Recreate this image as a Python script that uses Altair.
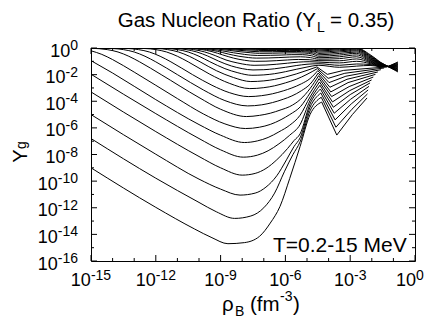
import altair as alt
import pandas as pd

W, H = 324, 213
FONT = "Liberation Sans"

# Each curve: (log10 rho_B, log10 Y_g), lowest temperature first
C01 = [(-15,-9.0),(-12,-11.97),(-10.2,-13.6),(-9.4,-14.25),(-8.66,-14.7),(-7.9,-14.62),(-7.2,-14.15),(-6.7,-13.15),(-6.25,-11.9),(-5.8,-9.8),(-5.32,-7.4),(-4.86,-5.0),(-4.32,-4.06),(-3.62,-6.54),(-2.9,-5.0),(-2.22,-3.75)]
C02 = [(-15,-6.8),(-12,-9.78),(-10.0,-11.6),(-9.2,-12.3),(-8.35,-12.8),(-7.6,-12.62),(-7.0,-12.0),(-6.5,-10.9),(-6.05,-9.3),(-5.65,-8.0),(-5.32,-7.05),(-4.86,-4.72),(-4.34,-3.7),(-3.66,-5.95),(-2.92,-4.6),(-2.2,-3.45)]
C03 = [(-15,-5.0),(-12,-7.98),(-10.0,-9.85),(-9.0,-10.6),(-8.1,-11.05),(-7.4,-10.9),(-6.9,-10.45),(-6.4,-9.6),(-5.95,-8.4),(-5.6,-7.4),(-5.32,-6.75),(-4.86,-4.45),(-4.36,-3.38),(-3.7,-5.4),(-2.95,-4.2),(-2.17,-3.15)]
C04 = [(-15,-3.3),(-12,-6.28),(-10.0,-8.15),(-9.0,-9.0),(-8.0,-9.55),(-7.4,-9.42),(-6.9,-9.05),(-6.4,-8.4),(-5.9,-7.55),(-5.6,-6.95),(-5.32,-6.45),(-4.86,-4.2),(-4.38,-3.08),(-3.74,-4.9),(-2.98,-3.85),(-2.13,-2.88)]
C05 = [(-15,-1.97),(-12,-4.93),(-10.0,-6.8),(-9.0,-7.65),(-7.95,-8.2),(-7.3,-8.05),(-6.8,-7.72),(-6.3,-7.2),(-5.8,-6.55),(-5.32,-5.75),(-4.86,-3.95),(-4.4,-2.8),(-3.78,-4.45),(-3.0,-3.5),(-2.08,-2.62)]
C06 = [(-15,-0.95),(-14,-1.88),(-12,-3.88),(-10.0,-5.75),(-9.0,-6.55),(-7.9,-7.1),(-7.3,-6.98),(-6.8,-6.72),(-6.3,-6.3),(-5.8,-5.8),(-5.32,-5.05),(-4.86,-3.68),(-4.42,-2.55),(-3.82,-4.05),(-3.02,-3.2),(-2.01,-2.4)]
C07 = [(-15,-0.21),(-14.5,-0.48),(-14,-0.87),(-13,-1.81),(-11,-3.8),(-9.8,-4.95),(-8.8,-5.7),(-7.85,-6.05),(-7.2,-5.95),(-6.7,-5.74),(-6.2,-5.38),(-5.8,-5.0),(-5.3,-4.4),(-4.86,-3.38),(-4.44,-2.3),(-3.86,-3.65),(-3.05,-2.9),(-1.93,-2.18)]
C08 = [(-15,-0.02),(-14.25,-0.12),(-13.75,-0.3),(-13.25,-0.62),(-12.75,-1.04),(-11.75,-2.0),(-10,-3.72),(-9,-4.6),(-7.8,-5.15),(-7.2,-5.06),(-6.7,-4.9),(-6.2,-4.64),(-5.8,-4.4),(-5.3,-3.85),(-4.86,-3.05),(-4.46,-2.08),(-3.9,-3.3),(-3.1,-2.6),(-1.83,-1.98)]
C09 = [(-15,0.0),(-14,-0.04),(-13.5,-0.12),(-13,-0.3),(-12.5,-0.62),(-12,-1.04),(-11,-2.0),(-9.8,-3.15),(-8.8,-3.95),(-7.75,-4.35),(-7.1,-4.27),(-6.6,-4.1),(-6.1,-3.85),(-5.7,-3.6),(-5.25,-3.2),(-4.86,-2.72),(-4.48,-1.88),(-3.94,-2.95),(-3.15,-2.35),(-1.72,-1.8)]
C10 = [(-15,0.0),(-13.3,-0.04),(-12.8,-0.12),(-12.3,-0.3),(-11.8,-0.62),(-11.3,-1.04),(-10.3,-2.0),(-9.4,-2.8),(-8.6,-3.35),(-7.7,-3.65),(-7.1,-3.58),(-6.6,-3.44),(-6.1,-3.22),(-5.7,-3.0),(-5.25,-2.68),(-4.86,-2.3),(-4.5,-1.7),(-3.98,-2.6),(-3.2,-2.12),(-1.58,-1.63)]
C11 = [(-15,0.0),(-12.5,-0.04),(-12,-0.12),(-11.5,-0.3),(-11,-0.62),(-10.5,-1.04),(-9.5,-1.97),(-8.6,-2.65),(-7.65,-3.05),(-7.0,-2.98),(-6.5,-2.84),(-6.0,-2.62),(-5.5,-2.35),(-5.0,-1.98),(-4.52,-1.55),(-4.02,-2.28),(-3.25,-1.9),(-1.43,-1.5)]
C12 = [(-15,0.0),(-11.95,-0.04),(-11.45,-0.12),(-10.95,-0.3),(-10.45,-0.62),(-9.95,-1.04),(-9.2,-1.7),(-8.4,-2.22),(-7.6,-2.52),(-7.0,-2.47),(-6.5,-2.36),(-6.0,-2.18),(-5.5,-1.95),(-5.0,-1.68),(-4.54,-1.42),(-4.06,-1.98),(-3.3,-1.68),(-1.28,-1.42)]
C13 = [(-15,0.0),(-11.5,-0.04),(-11,-0.12),(-10.5,-0.3),(-10,-0.62),(-9.5,-1.03),(-8.8,-1.55),(-8.2,-1.86),(-7.55,-2.05),(-7.0,-2.02),(-6.5,-1.93),(-6.0,-1.78),(-5.5,-1.6),(-5.0,-1.43),(-4.45,-1.3),(-3.5,-1.45),(-2.7,-1.36),(-2.08,-1.31),(-1.62,-1.42),(-1.25,-1.39),(-0.79,-1.05)]
C14 = [(-15,0.0),(-11.1,-0.04),(-10.6,-0.12),(-10.1,-0.3),(-9.6,-0.6),(-9.1,-0.98),(-8.5,-1.35),(-8.0,-1.55),(-7.5,-1.65),(-7.0,-1.63),(-6.5,-1.56),(-6.0,-1.45),(-5.5,-1.32),(-5.0,-1.22),(-4.45,-1.18),(-3.5,-1.3),(-2.7,-1.2),(-2.08,-1.24),(-1.62,-1.41),(-1.25,-1.39),(-0.79,-1.11)]
C15 = [(-15,0.0),(-10.75,-0.04),(-10.25,-0.12),(-9.75,-0.29),(-9.25,-0.57),(-8.75,-0.9),(-8.2,-1.13),(-7.8,-1.25),(-7.45,-1.3),(-6.9,-1.28),(-6.4,-1.22),(-5.9,-1.14),(-5.4,-1.06),(-4.9,-1.03),(-4.45,-1.06),(-3.5,-1.12),(-2.7,-1.0),(-2.08,-1.17),(-1.62,-1.38),(-1.25,-1.39),(-0.79,-1.17)]
C16 = [(-15,0.0),(-10.4,-0.04),(-9.9,-0.11),(-9.4,-0.27),(-8.9,-0.52),(-8.4,-0.76),(-7.9,-0.92),(-7.4,-1.0),(-6.9,-0.99),(-6.4,-0.95),(-5.9,-0.9),(-5.4,-0.86),(-4.9,-0.88),(-4.45,-0.95),(-3.5,-0.96),(-2.7,-0.82),(-2.08,-1.1),(-1.62,-1.35),(-1.25,-1.39),(-0.79,-1.23)]
C17 = [(-15,0.0),(-10.15,-0.04),(-9.65,-0.11),(-9.15,-0.25),(-8.65,-0.45),(-8.15,-0.62),(-7.7,-0.72),(-7.35,-0.76),(-6.8,-0.75),(-6.3,-0.72),(-5.8,-0.68),(-5.3,-0.66),(-4.85,-0.72),(-4.45,-0.84),(-3.5,-0.8),(-2.7,-0.66),(-2.08,-1.04),(-1.62,-1.32),(-1.25,-1.39),(-0.79,-1.29)]
C18 = [(-15,0.0),(-9.9,-0.04),(-9.4,-0.1),(-8.9,-0.22),(-8.4,-0.36),(-7.9,-0.48),(-7.3,-0.56),(-6.7,-0.55),(-6.2,-0.53),(-5.7,-0.5),(-5.2,-0.5),(-4.8,-0.58),(-4.45,-0.73),(-3.5,-0.66),(-2.7,-0.52),(-2.08,-0.98),(-1.62,-1.29),(-1.25,-1.39),(-0.79,-1.34)]
C19 = [(-15,0.0),(-9.6,-0.04),(-9.1,-0.09),(-8.6,-0.18),(-8.1,-0.28),(-7.6,-0.36),(-7.2,-0.4),(-6.6,-0.39),(-6.1,-0.37),(-5.6,-0.36),(-5.1,-0.38),(-4.75,-0.46),(-4.45,-0.62),(-3.5,-0.53),(-2.7,-0.4),(-2.08,-0.92),(-1.62,-1.26),(-1.25,-1.39),(-0.79,-1.4)]
C20 = [(-15,0.0),(-9.3,-0.03),(-8.8,-0.08),(-8.3,-0.15),(-7.8,-0.22),(-7.2,-0.28),(-6.6,-0.28),(-6.0,-0.26),(-5.5,-0.26),(-5.0,-0.3),(-4.7,-0.38),(-4.45,-0.51),(-3.5,-0.41),(-2.7,-0.3),(-2.08,-0.86),(-1.62,-1.23),(-1.25,-1.39),(-0.79,-1.46)]
C21 = [(-15,0.0),(-9.0,-0.03),(-8.5,-0.07),(-8.0,-0.12),(-7.5,-0.16),(-7.0,-0.19),(-6.4,-0.19),(-5.8,-0.18),(-5.3,-0.19),(-4.9,-0.24),(-4.6,-0.32),(-4.45,-0.41),(-3.5,-0.3),(-2.7,-0.21),(-2.08,-0.8),(-1.62,-1.2),(-1.25,-1.39),(-0.79,-1.52)]
C22 = [(-15,0.0),(-8.7,-0.03),(-8.0,-0.07),(-7.4,-0.1),(-6.8,-0.12),(-6.2,-0.12),(-5.6,-0.12),(-5.1,-0.15),(-4.7,-0.22),(-4.45,-0.31),(-3.5,-0.21),(-2.7,-0.14),(-2.08,-0.74),(-1.62,-1.17),(-1.25,-1.39),(-0.79,-1.57)]
C23 = [(-15,0.0),(-8.4,-0.02),(-7.6,-0.05),(-7.0,-0.07),(-6.3,-0.08),(-5.6,-0.08),(-5.0,-0.1),(-4.7,-0.15),(-4.45,-0.22),(-3.5,-0.13),(-2.7,-0.08),(-2.08,-0.68),(-1.62,-1.14),(-1.25,-1.39),(-0.79,-1.63)]
C24 = [(-15,0.0),(-8.0,-0.02),(-7.0,-0.04),(-6.0,-0.05),(-5.0,-0.06),(-4.7,-0.09),(-4.45,-0.14),(-3.5,-0.07),(-2.7,-0.04),(-2.08,-0.62),(-1.62,-1.11),(-1.25,-1.39),(-0.79,-1.69)]
C25 = [(-15,0.0),(-7.5,-0.01),(-6.0,-0.03),(-5.0,-0.04),(-4.7,-0.05),(-4.45,-0.07),(-3.5,-0.03),(-2.7,-0.02),(-2.08,-0.56),(-1.62,-1.08),(-1.25,-1.39),(-0.79,-1.74)]
C26 = [(-15,0.0),(-6.0,-0.01),(-4.45,-0.02),(-3.5,-0.01),(-2.7,0.0),(-2.08,-0.5),(-1.62,-1.05),(-1.25,-1.39),(-0.79,-1.8)]

CURVES = [C01, C02, C03, C04, C05, C06, C07, C08, C09, C10, C11, C12, C13,
          C14, C15, C16, C17, C18, C19, C20, C21, C22, C23, C24, C25, C26]
# log10 rho_B where each curve's sharp-cornered (zigzag / bow-tie) stretch begins
KINK_START = [-4.32, -4.34, -4.36, -4.38, -4.4, -4.42, -4.44, -4.46, -4.48, -4.5, -4.52, -4.54,
              -1.62, -1.62, -1.62, -1.62, -1.62, -1.62, -1.62, -1.62, -1.62, -1.62, -1.62, -1.62, -1.62, -1.62]

X_TICK_EXP = list(range(-15, 1))
X_LABEL_EXP = [-15, -12, -9, -6, -3, 0]
Y_TICK_EXP = list(range(-16, 1))
Y_LABEL_EXP = [0, -2, -4, -6, -8, -10, -12, -14, -16]

smooth_rows, sharp_rows = [], []
for i, pts in enumerate(CURVES):
    for u, v in pts:
        r = {"curve": i, "rho": 10.0 ** u, "yg": 10.0 ** v}
        if u <= KINK_START[i] + 1e-9:
            smooth_rows.append(r)
        if u >= KINK_START[i] - 1e-9:
            sharp_rows.append(r)

xs = alt.Scale(type="log", domain=[1e-15, 1], nice=False)
ys = alt.Scale(type="log", domain=[1e-16, 1], nice=False)

def curve_layer(rows, interp):
    return alt.Chart(pd.DataFrame(rows)).mark_line(
        color="black", strokeWidth=1, interpolate=interp, clip=True
    ).encode(
        x=alt.X("rho:Q", scale=xs, axis=None),
        y=alt.Y("yg:Q", scale=ys, axis=None),
        detail="curve:N",
    )

layers = [curve_layer(smooth_rows, "monotone"), curve_layer(sharp_rows, "linear")]

# inward ticks on all four sides
def xticks(exps, length):
    d = pd.DataFrame({"t": [10.0 ** e for e in exps]})
    bot = alt.Chart(d).mark_rule(color="black", strokeWidth=1).encode(
        x=alt.X("t:Q", scale=xs, axis=None), y=alt.value(H), y2=alt.value(H - length))
    top = alt.Chart(d).mark_rule(color="black", strokeWidth=1).encode(
        x=alt.X("t:Q", scale=xs, axis=None), y=alt.value(0), y2=alt.value(length))
    return [bot, top]

def yticks(exps, length):
    d = pd.DataFrame({"t": [10.0 ** e for e in exps]})
    lef = alt.Chart(d).mark_rule(color="black", strokeWidth=1).encode(
        y=alt.Y("t:Q", scale=ys, axis=None), x=alt.value(0), x2=alt.value(length))
    rig = alt.Chart(d).mark_rule(color="black", strokeWidth=1).encode(
        y=alt.Y("t:Q", scale=ys, axis=None), x=alt.value(W), x2=alt.value(W - length))
    return [lef, rig]

layers += xticks([e for e in X_TICK_EXP if e not in X_LABEL_EXP], 3)
layers += xticks(X_LABEL_EXP, 6)
layers += yticks([e for e in Y_TICK_EXP if e not in Y_LABEL_EXP], 3)
layers += yticks(Y_LABEL_EXP, 6)

FB, FE = 18, 14
def wexp(s):
    return sum(0.333 if ch == "-" else 0.556 for ch in s) * FE
W10 = 1.112 * FB

# x tick labels: "10" + raised exponent, centred on tick
groups = {}
for e in X_LABEL_EXP:
    groups.setdefault(len(str(e)), []).append(e)
for _, es in groups.items():
    d = pd.DataFrame({"pos": [10.0 ** e for e in es], "exp": [str(e) for e in es]})
    dj = (W10 - wexp(str(es[0]))) / 2
    if es == [0]:
        dj -= 5  # keep the last label inside the page
    layers.append(alt.Chart(d).mark_text(text="10", font=FONT, fontSize=FB, align="right", baseline="alphabetic", dx=dj).encode(
        x=alt.X("pos:Q", scale=xs, axis=None), y=alt.value(H + 25)))
    layers.append(alt.Chart(d).mark_text(font=FONT, fontSize=FE, align="left", baseline="alphabetic", dx=dj).encode(
        x=alt.X("pos:Q", scale=xs, axis=None), y=alt.value(H + 19), text="exp:N"))

# y tick labels
groups = {}
for e in Y_LABEL_EXP:
    groups.setdefault(len(str(e)), []).append(e)
for _, es in groups.items():
    d = pd.DataFrame({"pos": [10.0 ** e for e in es], "exp": [str(e) for e in es]})
    we = wexp(str(es[0]))
    layers.append(alt.Chart(d).mark_text(text="10", font=FONT, fontSize=FB, align="right", baseline="alphabetic", dy=8.5).encode(
        y=alt.Y("pos:Q", scale=ys, axis=None), x=alt.value(-13 - we)))
    layers.append(alt.Chart(d).mark_text(font=FONT, fontSize=FE, align="right", baseline="alphabetic", dy=2).encode(
        y=alt.Y("pos:Q", scale=ys, axis=None), x=alt.value(-13), text="exp:N"))

def txt(s, x, y, size, align="left", angle=0):
    return alt.Chart(pd.DataFrame({"a": [0]})).mark_text(
        text=s, font=FONT, fontSize=size, align=align, baseline="alphabetic", angle=angle, color="black"
    ).encode(x=alt.value(x), y=alt.value(y))

TITLE_MAIN = "Gas Nucleon Ratio (Y"
TITLE_SUB = "L"
TITLE_END = "= 0.35)"
layers.append(txt(TITLE_MAIN, 225, -21, 20.5, align="right"))
layers.append(txt(TITLE_SUB, 226, -16, 14))
layers.append(txt(TITLE_END, 239, -21, 20.5))

# x axis title: rho_B (fm^-3)
XT_BASE = 263
layers.append(txt("ρ", 131, XT_BASE, 20.5))
layers.append(txt("B", 144, XT_BASE + 5, 14))
layers.append(txt("(fm", 159, XT_BASE, 20.5))
layers.append(txt("-3", 189, XT_BASE - 10, 14))
layers.append(txt(")", 202, XT_BASE, 20.5))

# y axis title: Y_g (rotated)
layers.append(txt("Y", -64.5, 108, 20, align="center", angle=270))
layers.append(txt("g", -65.5, 97, 14, align="center", angle=270))

layers.append(txt("T=0.2-15 MeV", 182, 204, 21))

chart = alt.layer(*layers).properties(
    width=W, height=H,
    autosize=alt.AutoSizeParams(type="none"),
    padding={"left": 83, "top": 40, "right": 10, "bottom": 58},
    background="white",
).configure_view(stroke="black", strokeWidth=1)

chart.save("out.html", embed_options={"renderer": "svg", "actions": False})
